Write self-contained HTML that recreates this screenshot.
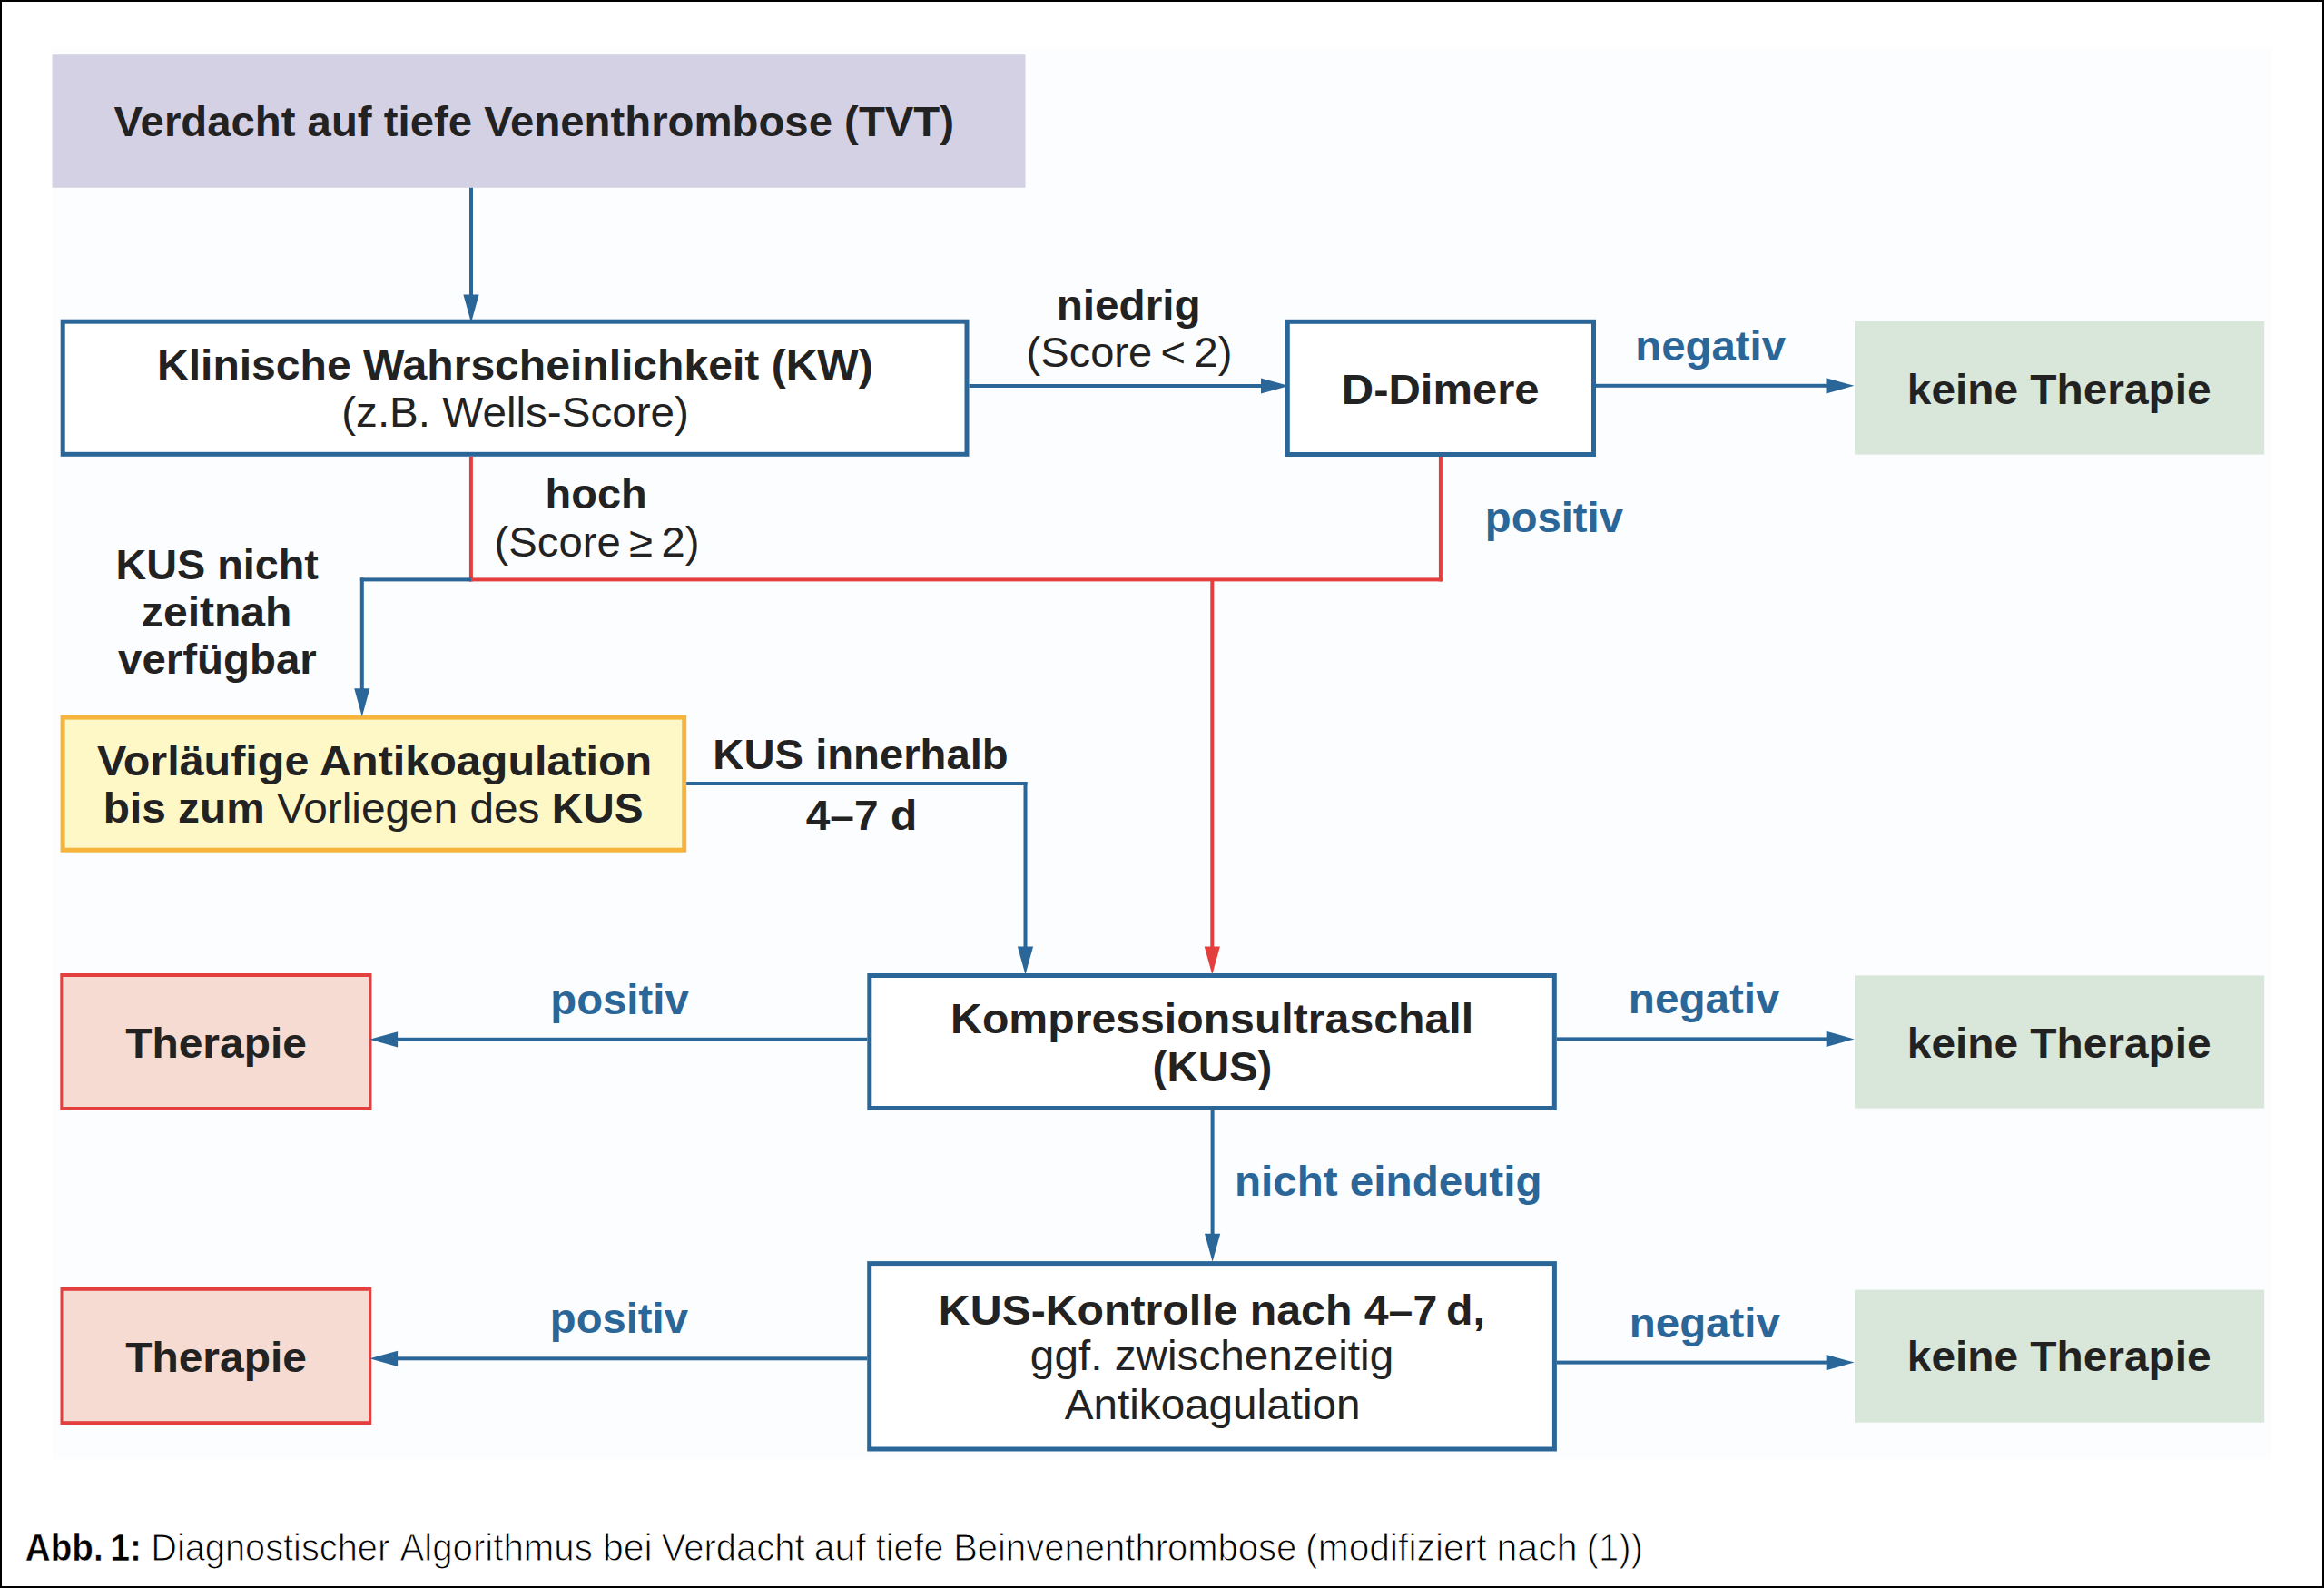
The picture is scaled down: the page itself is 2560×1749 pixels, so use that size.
<!DOCTYPE html>
<html><head><meta charset="utf-8">
<style>
html,body{margin:0;padding:0;background:#fff;}
body{width:2560px;height:1749px;overflow:hidden;position:relative;}
svg{position:absolute;left:0;top:0;}
text{font-family:"Liberation Sans",sans-serif;}
.b{font-weight:bold;}
.t{fill:#222;font-size:47.5px;}
.bl{fill:#2b6699;font-size:47.5px;font-weight:bold;}
</style></head><body>
<svg width="2560" height="1749" viewBox="0 0 2560 1749">
<rect x="1" y="1" width="2558" height="1747" fill="#fff" stroke="#000" stroke-width="2"/>
<rect x="58.00" y="53.00" width="2444.00" height="1554.00" fill="#fcfdff"/>
<rect x="57.50" y="60.20" width="1072.00" height="146.60" fill="#d5d1e5"/>
<rect x="66.70" y="351.70" width="1000.80" height="151.10" fill="#2b6699"/><rect x="71.70" y="356.70" width="990.80" height="141.10" fill="#fff"/>
<rect x="1415.80" y="351.80" width="342.20" height="151.20" fill="#2b6699"/><rect x="1420.80" y="356.80" width="332.20" height="141.20" fill="#fff"/>
<rect x="2043.00" y="353.90" width="451.20" height="146.70" fill="#d9e7da"/>
<rect x="66.60" y="787.60" width="689.60" height="151.10" fill="#f6b43c"/><rect x="71.60" y="792.60" width="679.60" height="141.10" fill="#fef7c6"/>
<rect x="955.30" y="1072.00" width="759.50" height="151.00" fill="#2b6699"/><rect x="960.30" y="1077.00" width="749.50" height="141.00" fill="#fff"/>
<rect x="66.30" y="1072.00" width="343.20" height="151.00" fill="#e43f3f"/><rect x="69.30" y="1076.00" width="337.20" height="143.00" fill="#f5dbd1"/>
<rect x="2043.00" y="1074.40" width="451.20" height="146.20" fill="#d9e7da"/>
<rect x="955.20" y="1389.10" width="759.70" height="209.40" fill="#2b6699"/><rect x="960.20" y="1394.10" width="749.70" height="199.40" fill="#fff"/>
<rect x="66.50" y="1417.80" width="342.70" height="151.40" fill="#e43f3f"/><rect x="69.50" y="1421.80" width="336.70" height="143.40" fill="#f5dbd1"/>
<rect x="2043.00" y="1420.60" width="451.20" height="146.10" fill="#d9e7da"/>
<rect x="517.00" y="206.80" width="4.00" height="118.20" fill="#2b6699"/>
<path d="M510.40 324.50L527.60 324.50L519.00 355.50Z" fill="#2b6699"/>
<rect x="1067.50" y="423.00" width="322.50" height="4.00" fill="#2b6699"/>
<path d="M1389.00 416.40L1389.00 433.60L1420.00 425.00Z" fill="#2b6699"/>
<rect x="1758.00" y="422.80" width="254.00" height="4.00" fill="#2b6699"/>
<path d="M2011.50 416.20L2011.50 433.40L2042.50 424.80Z" fill="#2b6699"/>
<rect x="516.90" y="502.80" width="4.00" height="137.60" fill="#e43f3f"/>
<rect x="516.90" y="636.40" width="1072.00" height="4.00" fill="#e43f3f"/>
<rect x="1584.90" y="503.00" width="4.00" height="137.40" fill="#e43f3f"/>
<rect x="1333.30" y="638.40" width="4.00" height="404.60" fill="#e43f3f"/>
<rect x="396.80" y="636.40" width="122.20" height="4.00" fill="#2b6699"/>
<rect x="396.80" y="636.40" width="4.00" height="122.60" fill="#2b6699"/>
<path d="M390.20 758.20L407.40 758.20L398.80 789.20Z" fill="#2b6699"/>
<rect x="756.20" y="861.00" width="375.30" height="4.00" fill="#2b6699"/>
<rect x="1127.50" y="861.00" width="4.00" height="182.00" fill="#2b6699"/>
<path d="M1120.90 1042.50L1138.10 1042.50L1129.50 1073.50Z" fill="#2b6699"/>
<rect x="437.00" y="1142.80" width="518.30" height="4.00" fill="#2b6699"/>
<path d="M438.10 1136.20L438.10 1153.40L407.10 1144.80Z" fill="#2b6699"/>
<rect x="1714.80" y="1142.40" width="297.70" height="4.00" fill="#2b6699"/>
<path d="M2011.70 1135.80L2011.70 1153.00L2042.70 1144.40Z" fill="#2b6699"/>
<rect x="1333.60" y="1223.00" width="4.00" height="136.50" fill="#2b6699"/>
<path d="M1327.00 1358.70L1344.20 1358.70L1335.60 1389.70Z" fill="#2b6699"/>
<rect x="437.00" y="1494.30" width="518.20" height="4.00" fill="#2b6699"/>
<path d="M438.10 1487.70L438.10 1504.90L407.10 1496.30Z" fill="#2b6699"/>
<rect x="1714.90" y="1498.60" width="297.60" height="4.00" fill="#2b6699"/>
<path d="M2011.70 1492.00L2011.70 1509.20L2042.70 1500.60Z" fill="#2b6699"/>
<path d="M1326.70 1042.50L1343.90 1042.50L1335.30 1073.50Z" fill="#e43f3f"/>
<!-- texts -->
<g style="font-family:'Liberation Sans',sans-serif;font-size:47px">
<text x="125.64" y="150.20" fill="#222" textLength="925.37" lengthAdjust="spacingAndGlyphs"><tspan font-weight="bold">Verdacht auf tiefe Venenthrombose (TVT)</tspan></text>
<text x="172.98" y="417.80" fill="#222" textLength="788.75" lengthAdjust="spacingAndGlyphs"><tspan font-weight="bold">Klinische Wahrscheinlichkeit (KW)</tspan></text>
<text x="376.24" y="470.00" fill="#222" textLength="382.69" lengthAdjust="spacingAndGlyphs"><tspan>(z.B. Wells-Score)</tspan></text>
<text x="1163.70" y="351.60" fill="#222" textLength="158.93" lengthAdjust="spacingAndGlyphs"><tspan font-weight="bold">niedrig</tspan></text>
<text x="1130.60" y="404.00" fill="#222" textLength="226.79" lengthAdjust="spacingAndGlyphs"><tspan>(Score &lt; 2)</tspan></text>
<text x="1477.80" y="444.60" fill="#222" textLength="217.75" lengthAdjust="spacingAndGlyphs"><tspan font-weight="bold">D-Dimere</tspan></text>
<text x="1801.32" y="397.20" fill="#2b6699" textLength="165.73" lengthAdjust="spacingAndGlyphs"><tspan font-weight="bold">negativ</tspan></text>
<text x="2100.80" y="445.00" fill="#222" textLength="334.84" lengthAdjust="spacingAndGlyphs"><tspan font-weight="bold">keine Therapie</tspan></text>
<text x="1635.80" y="586.00" fill="#2b6699" textLength="152.16" lengthAdjust="spacingAndGlyphs"><tspan font-weight="bold">positiv</tspan></text>
<text x="600.62" y="560.00" fill="#222" textLength="112.11" lengthAdjust="spacingAndGlyphs"><tspan font-weight="bold">hoch</tspan></text>
<text x="544.60" y="612.80" fill="#222" textLength="225.91" lengthAdjust="spacingAndGlyphs"><tspan>(Score ≥ 2)</tspan></text>
<text x="127.52" y="637.80" fill="#222" textLength="223.42" lengthAdjust="spacingAndGlyphs"><tspan font-weight="bold">KUS nicht</tspan></text>
<text x="155.86" y="689.70" fill="#222" textLength="165.63" lengthAdjust="spacingAndGlyphs"><tspan font-weight="bold">zeitnah</tspan></text>
<text x="130.00" y="742.00" fill="#222" textLength="218.78" lengthAdjust="spacingAndGlyphs"><tspan font-weight="bold">verfügbar</tspan></text>
<text x="107.00" y="853.50" fill="#222" textLength="611.23" lengthAdjust="spacingAndGlyphs"><tspan font-weight="bold">Vorläufige Antikoagulation</tspan></text>
<text x="113.80" y="906.20" fill="#222" textLength="594.83" lengthAdjust="spacingAndGlyphs"><tspan font-weight="bold">bis zum </tspan><tspan>Vorliegen des </tspan><tspan font-weight="bold">KUS</tspan></text>
<text x="785.34" y="846.70" fill="#222" textLength="325.35" lengthAdjust="spacingAndGlyphs"><tspan font-weight="bold">KUS innerhalb</tspan></text>
<text x="887.74" y="913.50" fill="#222" textLength="122.44" lengthAdjust="spacingAndGlyphs"><tspan font-weight="bold">4–7 d</tspan></text>
<text x="138.20" y="1164.80" fill="#222" textLength="199.67" lengthAdjust="spacingAndGlyphs"><tspan font-weight="bold">Therapie</tspan></text>
<text x="606.28" y="1117.00" fill="#2b6699" textLength="152.46" lengthAdjust="spacingAndGlyphs"><tspan font-weight="bold">positiv</tspan></text>
<text x="1047.08" y="1138.00" fill="#222" textLength="575.98" lengthAdjust="spacingAndGlyphs"><tspan font-weight="bold">Kompressionsultraschall</tspan></text>
<text x="1269.60" y="1190.70" fill="#222" textLength="131.76" lengthAdjust="spacingAndGlyphs"><tspan font-weight="bold">(KUS)</tspan></text>
<text x="1793.80" y="1116.40" fill="#2b6699" textLength="166.79" lengthAdjust="spacingAndGlyphs"><tspan font-weight="bold">negativ</tspan></text>
<text x="2100.80" y="1164.90" fill="#222" textLength="334.84" lengthAdjust="spacingAndGlyphs"><tspan font-weight="bold">keine Therapie</tspan></text>
<text x="1359.90" y="1317.40" fill="#2b6699" textLength="338.59" lengthAdjust="spacingAndGlyphs"><tspan font-weight="bold">nicht eindeutig</tspan></text>
<text x="1033.80" y="1458.50" fill="#222" textLength="602.00" lengthAdjust="spacingAndGlyphs"><tspan font-weight="bold">KUS-Kontrolle nach 4–7 d,</tspan></text>
<text x="1134.86" y="1509.40" fill="#222" textLength="400.31" lengthAdjust="spacingAndGlyphs"><tspan>ggf. zwischenzeitig</tspan></text>
<text x="1172.74" y="1563.30" fill="#222" textLength="325.74" lengthAdjust="spacingAndGlyphs"><tspan>Antikoagulation</tspan></text>
<text x="138.20" y="1510.70" fill="#222" textLength="199.67" lengthAdjust="spacingAndGlyphs"><tspan font-weight="bold">Therapie</tspan></text>
<text x="605.80" y="1468.20" fill="#2b6699" textLength="152.16" lengthAdjust="spacingAndGlyphs"><tspan font-weight="bold">positiv</tspan></text>
<text x="1794.80" y="1473.40" fill="#2b6699" textLength="166.05" lengthAdjust="spacingAndGlyphs"><tspan font-weight="bold">negativ</tspan></text>
<text x="2100.80" y="1509.60" fill="#222" textLength="334.84" lengthAdjust="spacingAndGlyphs"><tspan font-weight="bold">keine Therapie</tspan></text>
<text x="27.82" y="1719.00" fill="#000" textLength="127.98" lengthAdjust="spacingAndGlyphs" font-size="43.0" stroke="#fff" stroke-width="0.5"><tspan font-weight="bold">Abb. 1:</tspan></text>
<text x="166.22" y="1719.00" fill="#000" textLength="262.91" lengthAdjust="spacingAndGlyphs" font-size="43.0" stroke="#fff" stroke-width="1.0"><tspan>Diagnostischer</tspan></text>
<text x="440.40" y="1719.00" fill="#000" textLength="212.46" lengthAdjust="spacingAndGlyphs" font-size="43.0" stroke="#fff" stroke-width="1.0"><tspan>Algorithmus</tspan></text>
<text x="663.94" y="1719.00" fill="#000" textLength="54.64" lengthAdjust="spacingAndGlyphs" font-size="43.0" stroke="#fff" stroke-width="1.0"><tspan>bei</tspan></text>
<text x="728.76" y="1719.00" fill="#000" textLength="157.78" lengthAdjust="spacingAndGlyphs" font-size="43.0" stroke="#fff" stroke-width="1.0"><tspan>Verdacht</tspan></text>
<text x="896.74" y="1719.00" fill="#000" textLength="57.06" lengthAdjust="spacingAndGlyphs" font-size="43.0" stroke="#fff" stroke-width="1.0"><tspan>auf</tspan></text>
<text x="964.84" y="1719.00" fill="#000" textLength="74.51" lengthAdjust="spacingAndGlyphs" font-size="43.0" stroke="#fff" stroke-width="1.0"><tspan>tiefe</tspan></text>
<text x="1050.14" y="1719.00" fill="#000" textLength="378.24" lengthAdjust="spacingAndGlyphs" font-size="43.0" stroke="#fff" stroke-width="1.0"><tspan>Beinvenenthrombose</tspan></text>
<text x="1438.08" y="1719.00" fill="#000" textLength="199.51" lengthAdjust="spacingAndGlyphs" font-size="43.0" stroke="#fff" stroke-width="1.0"><tspan>(modifiziert</tspan></text>
<text x="1648.44" y="1719.00" fill="#000" textLength="89.28" lengthAdjust="spacingAndGlyphs" font-size="43.0" stroke="#fff" stroke-width="1.0"><tspan>nach</tspan></text>
<text x="1747.66" y="1719.00" fill="#000" textLength="62.17" lengthAdjust="spacingAndGlyphs" font-size="43.0" stroke="#fff" stroke-width="1.0"><tspan>(1))</tspan></text>
</g>
</svg>
</body></html>
